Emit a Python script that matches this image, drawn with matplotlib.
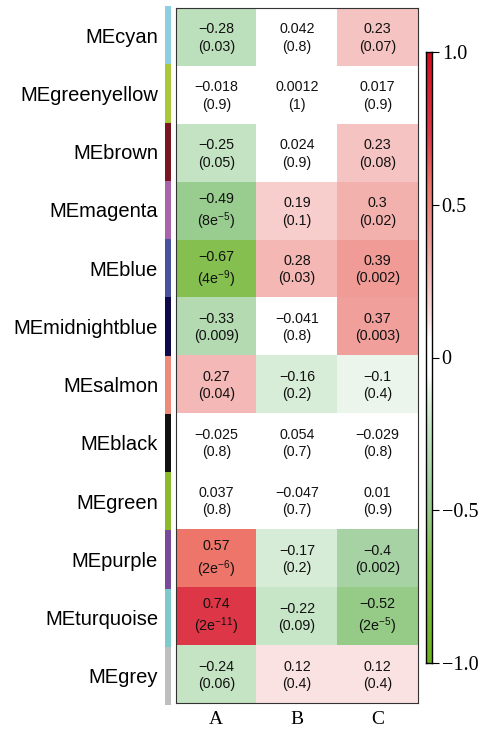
import numpy as np
import matplotlib.pyplot as plt
from matplotlib.colors import LinearSegmentedColormap

plt.rcParams["mathtext.fontset"] = "custom"
plt.rcParams["mathtext.rm"] = "Liberation Sans"
plt.rcParams["mathtext.it"] = "Liberation Sans"

modules = ["MEcyan", "MEgreenyellow", "MEbrown", "MEmagenta", "MEblue",
           "MEmidnightblue", "MEsalmon", "MEblack", "MEgreen", "MEpurple",
           "MEturquoise", "MEgrey"]
module_colors = ["#8fcde0", "#a8c83a", "#7a1522", "#a764a8", "#4a52a0",
                 "#0e0a4a", "#ee8a7a", "#111111", "#8cba2a", "#7a4a9a",
                 "#7ecaca", "#bebebe"]
traits = ["A", "B", "C"]

cor = np.array([
    [-0.28, 0.042, 0.23],
    [-0.018, 0.0012, 0.017],
    [-0.25, 0.024, 0.23],
    [-0.49, 0.19, 0.3],
    [-0.67, 0.28, 0.39],
    [-0.33, -0.041, 0.37],
    [0.27, -0.16, -0.1],
    [-0.025, 0.054, -0.029],
    [0.037, -0.047, 0.01],
    [0.57, -0.17, -0.4],
    [0.74, -0.22, -0.52],
    [-0.24, 0.12, 0.12],
])
cor_txt = [
    ["\u22120.28", "0.042", "0.23"],
    ["\u22120.018", "0.0012", "0.017"],
    ["\u22120.25", "0.024", "0.23"],
    ["\u22120.49", "0.19", "0.3"],
    ["\u22120.67", "0.28", "0.39"],
    ["\u22120.33", "\u22120.041", "0.37"],
    ["0.27", "\u22120.16", "\u22120.1"],
    ["\u22120.025", "0.054", "\u22120.029"],
    ["0.037", "\u22120.047", "0.01"],
    ["0.57", "\u22120.17", "\u22120.4"],
    ["0.74", "\u22120.22", "\u22120.52"],
    ["\u22120.24", "0.12", "0.12"],
]
pval_txt = [
    ["(0.03)", "(0.8)", "(0.07)"],
    ["(0.9)", "(1)", "(0.9)"],
    ["(0.05)", "(0.9)", "(0.08)"],
    ["(8e$^{-5}$)", "(0.1)", "(0.02)"],
    ["(4e$^{-9}$)", "(0.03)", "(0.002)"],
    ["(0.009)", "(0.8)", "(0.003)"],
    ["(0.04)", "(0.2)", "(0.4)"],
    ["(0.8)", "(0.7)", "(0.8)"],
    ["(0.8)", "(0.7)", "(0.9)"],
    ["(2e$^{-6}$)", "(0.2)", "(0.002)"],
    ["(2e$^{-11}$)", "(0.09)", "(2e$^{-5}$)"],
    ["(0.06)", "(0.4)", "(0.4)"],
]

# green - white - red palette, white around zero
stops = [(-1, "#6db31e"), (-0.67, "#86c050"), (-0.5, "#98cd8e"),
         (-0.4, "#a8d4a5"), (-0.22, "#c8e6c8"), (-0.1, "#eaf5ea"),
         (-0.06, "#ffffff"), (0.06, "#ffffff"), (0.12, "#fce3e3"),
         (0.23, "#f6c4c2"), (0.39, "#f09b96"), (0.57, "#ed7569"),
         (0.74, "#de3848"), (1, "#d20f1e")]
cmap = LinearSegmentedColormap.from_list(
    "gwr", [((v + 1) / 2, c) for v, c in stops])

fig = plt.figure(figsize=(4.79, 7.29), dpi=100)
W, H = 479, 729
ax = fig.add_axes([176 / W, 1 - 703 / H, (418 - 176) / W, (703 - 8) / H])
n = len(modules)
ax.imshow(cor, cmap=cmap, vmin=-1, vmax=1, aspect="auto",
          extent=[0, 3, n, 0], interpolation="nearest")
ax.set_xlim(0, 3)
ax.set_ylim(n, 0)
for i in range(n):
    for j in range(3):
        ax.text(j + 0.5, i + 0.52, cor_txt[i][j] + "\n" + pval_txt[i][j],
                ha="center", va="center", fontsize=10.3, linespacing=1.3,
                family="Liberation Sans", color="#111111")
ax.set_xticks(np.arange(3) + 0.5)
ax.set_xticklabels(traits, family="Liberation Serif", fontsize=14)
ax.set_yticks([])
ax.tick_params(axis="x", length=0, pad=6)
for s in ax.spines.values():
    s.set_linewidth(0.8)
    s.set_color("#333333")

# module colour strip
sax = fig.add_axes([165 / W, 1 - 705 / H, 6 / W, (705 - 6) / H])
for i, c in enumerate(module_colors):
    sax.axhspan(i, i + 1, color=c, lw=0)
sax.set_xlim(0, 1)
sax.set_ylim(n, 0)
sax.set_xticks([])
sax.set_yticks(np.arange(n) + 0.5)
sax.set_yticklabels(modules, family="Liberation Sans", fontsize=14.5)
sax.tick_params(axis="y", length=0, pad=5)
for s in sax.spines.values():
    s.set_visible(False)

# colour bar
cax = fig.add_axes([426 / W, 1 - 663 / H, 6 / W, (663 - 52) / H])
grad = np.linspace(-1, 1, 256).reshape(-1, 1)
cax.imshow(grad, cmap=cmap, vmin=-1, vmax=1, aspect="auto",
           extent=[0, 1, -1, 1], origin="lower")
cax.set_xlim(0, 1)
cax.set_ylim(-1, 1)
cax.set_xticks([])
cax.yaxis.tick_right()
cax.set_yticks([-1, -0.5, 0, 0.5, 1])
cax.set_yticklabels(["\u22121.0", "\u22120.5", "0", "0.5", "1.0"],
                    family="Liberation Serif", fontsize=14.5)
cax.tick_params(axis="y", length=5, width=0.8, pad=2)
for s in cax.spines.values():
    s.set_linewidth(1.0)

fig.savefig("out.png", dpi=100)
